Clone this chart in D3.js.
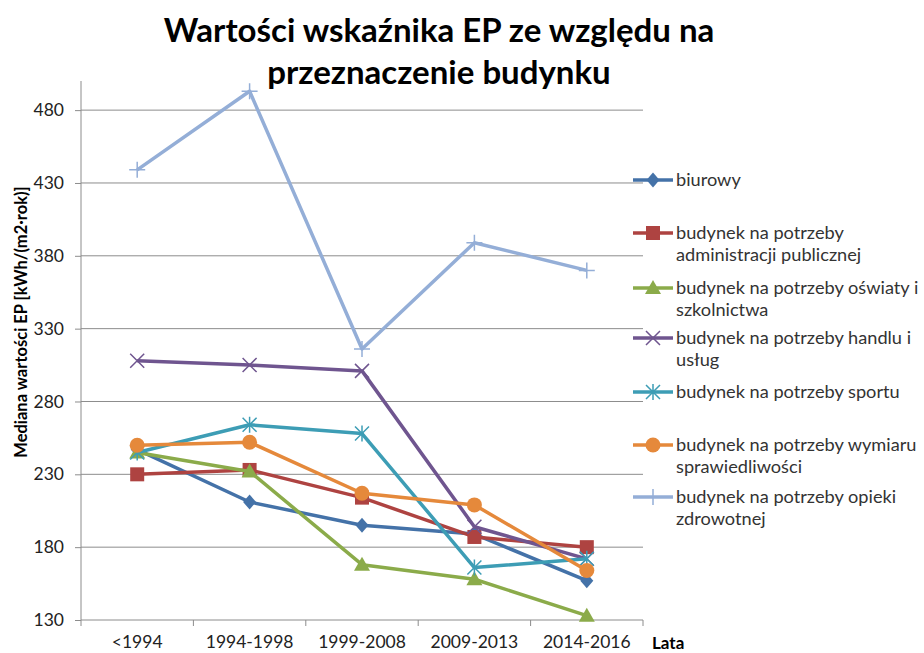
<!DOCTYPE html>
<html>
<head>
<meta charset="utf-8">
<title>Wartości wskaźnika EP</title>
<script src="https://cdnjs.cloudflare.com/ajax/libs/d3/7.8.5/d3.min.js"></script>
<style>
body { margin: 0; background: #fff; }
text { font-family: Lato, "Open Sans", sans-serif; }
.tick text { fill: #222; font-size: 17.5px; }
.grid line { stroke: #8c8c8c; stroke-width: 1; }
.legend text { fill: #333; font-size: 18.2px; }
</style>
</head>
<body>
<div id="chart"></div>
<script>
// okresy budowy
var years = ["<1994", "1994-1998", "1999-2008", "2009-2013", "2014-2016"];
var yTicks = [130, 180, 230, 280, 330, 380, 430, 480];

// mediany EP
var biurowy     = [247, 211, 195, 189, 157];
var administr   = [230, 233, 214, 187, 180];
var oswiata     = [245, 232, 168, 158, 133];
var handel      = [308, 305, 301, 194, 172];
var sport       = [245, 264, 258, 166, 172];
var sprawiedl   = [250, 252, 217, 209, 164];
var zdrowie     = [439, 493, 316, 389, 370];

var seriesNames = [
  ["biurowy"],
  ["budynek na potrzeby", "administracji publicznej"],
  ["budynek na potrzeby oświaty i", "szkolnictwa"],
  ["budynek na potrzeby handlu i", "usług"],
  ["budynek na potrzeby sportu"],
  ["budynek na potrzeby wymiaru", "sprawiedliwości"],
  ["budynek na potrzeby opieki", "zdrowotnej"]
];
var seriesValues = [biurowy, administr, oswiata, handel, sport, sprawiedl, zdrowie];
var colors = ["#4472a8", "#ae4341", "#8bab4a", "#6f558f", "#3d9db5", "#e5893b", "#94aed7"];
var markers = ["diamond", "square", "triangle", "x", "asterisk", "circle", "plus"];

var W = 924, H = 653;
var pLeft = 81, pRight = 643, pTop = 81, pBottom = 620;

var svg = d3.select("#chart").append("svg")
  .attr("width", W).attr("height", H);

var x = d3.scaleBand().domain(years).range([pLeft, pRight]);
var y = d3.scaleLinear().domain([130, 500]).range([pBottom, pTop]);

// tytuł
svg.append("text").attr("x", 439).attr("y", 42)
  .attr("text-anchor", "middle").style("font-size", "33px").style("font-weight", "bold")
  .text("Wartości wskaźnika EP ze względu na");
svg.append("text").attr("x", 439).attr("y", 84)
  .attr("text-anchor", "middle").style("font-size", "33px").style("font-weight", "bold")
  .text("przeznaczenie budynku");

// siatka
svg.append("g").attr("class", "grid")
  .selectAll("line").data(yTicks.filter(d => d > 130)).enter().append("line")
  .attr("x1", pLeft).attr("x2", pRight)
  .attr("y1", d => y(d)).attr("y2", d => y(d));

// osie
var gy = svg.append("g").attr("transform", "translate(" + pLeft + ",0)")
  .call(d3.axisLeft(y).tickValues(yTicks).tickSize(6).tickPadding(11));
var gx = svg.append("g").attr("transform", "translate(0," + pBottom + ")")
  .call(d3.axisBottom(x).tickSize(0).tickPadding(16));
// znaczniki między kategoriami
gx.selectAll(".sep").data(years.concat(["end"])).enter().append("line")
  .attr("class", "sep")
  .attr("x1", (d, i) => pLeft + i * x.bandwidth())
  .attr("x2", (d, i) => pLeft + i * x.bandwidth())
  .attr("y1", 0).attr("y2", 6);
svg.selectAll(".domain, .tick line, .sep").attr("stroke", "#8c8c8c");
gy.select(".domain").attr("d", "M0," + pTop + "V" + pBottom);
gx.select(".domain").attr("d", "M" + pLeft + ",0H" + pRight);

svg.append("text")
  .attr("transform", "translate(27,322) rotate(-90)")
  .attr("text-anchor", "middle").style("font-size", "16.5px").style("font-weight", "bold")
  .text("Mediana wartości EP [kWh/(m2·rok)]");
svg.append("text").attr("x", 652).attr("y", 649)
  .style("font-size", "17px").style("font-weight", "bold").text("Lata");

function drawMarker(g, type, color) {
  var s = 7;
  if (type === "diamond") {
    g.append("path").attr("d", "M0,-7.5L6.5,0L0,7.5L-6.5,0Z").attr("fill", color);
  } else if (type === "square") {
    g.append("rect").attr("x", -s).attr("y", -s).attr("width", 2 * s).attr("height", 2 * s)
      .attr("fill", color);
  } else if (type === "triangle") {
    g.append("path").attr("d", "M0,-8L8,6L-8,6Z").attr("fill", color);
  } else if (type === "circle") {
    g.append("circle").attr("r", 7.5).attr("fill", color);
  } else if (type === "x") {
    g.append("path").attr("d", "M-7,-7L7,7M-7,7L7,-7")
      .attr("stroke", color).attr("stroke-width", 1.5).attr("fill", "none");
  } else if (type === "asterisk") {
    g.append("path").attr("d", "M-7,-7L7,7M-7,7L7,-7M0,-8V8")
      .attr("stroke", color).attr("stroke-width", 1.5).attr("fill", "none");
  } else if (type === "plus") {
    g.append("path").attr("d", "M-8,0H8M0,-8V8")
      .attr("stroke", color).attr("stroke-width", 1.5).attr("fill", "none");
  }
}

var line = d3.line()
  .x((d, i) => x(years[i]) + x.bandwidth() / 2)
  .y(d => y(d));

seriesValues.forEach(function (vals, k) {
  var g = svg.append("g");
  g.append("path").datum(vals).attr("d", line)
    .attr("fill", "none").attr("stroke", colors[k]).attr("stroke-width", 3.5)
    .attr("stroke-linejoin", "round");
  vals.forEach(function (v, i) {
    var m = g.append("g")
      .attr("transform", "translate(" + (x(years[i]) + x.bandwidth() / 2) + "," + y(v) + ")");
    drawMarker(m, markers[k], colors[k]);
  });
});

// legenda
var legY = [180, 233, 288, 338, 392, 445, 497];
var leg = svg.append("g").attr("class", "legend");
seriesNames.forEach(function (lines, k) {
  var g = leg.append("g").attr("transform", "translate(0," + legY[k] + ")");
  g.append("line").attr("x1", 633).attr("x2", 673).attr("y1", 0).attr("y2", 0)
    .attr("stroke", colors[k]).attr("stroke-width", 3.5);
  var m = g.append("g").attr("transform", "translate(653,0)");
  drawMarker(m, markers[k], colors[k]);
  lines.forEach(function (t, j) {
    g.append("text").attr("x", 676).attr("y", 6 + j * 22).text(t);
  });
});
</script>
</body>
</html>
